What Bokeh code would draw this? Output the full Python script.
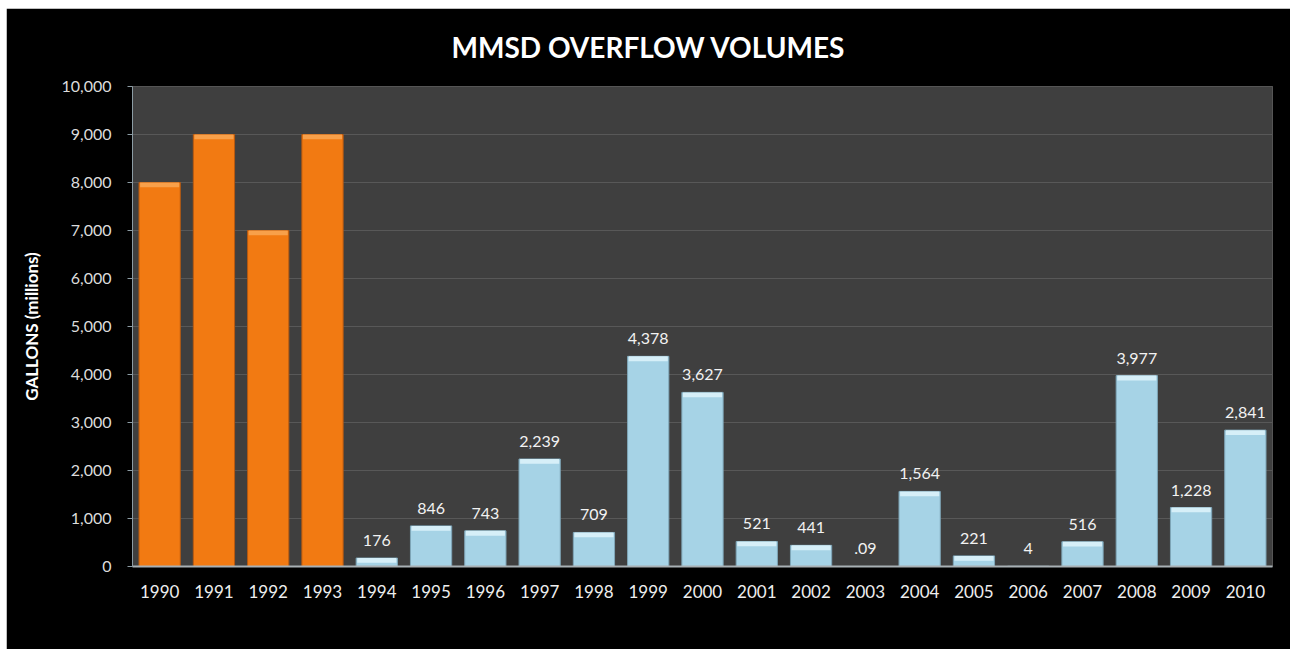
from bokeh.plotting import figure
from bokeh.models import ColumnDataSource, Range1d, NumeralTickFormatter, SingleIntervalTicker, Title
from bokeh.core.properties import value
from bokeh.embed import file_html
from bokeh.resources import INLINE

# ---- data ----
years = ["1990", "1991", "1992", "1993", "1994", "1995", "1996", "1997", "1998", "1999",
         "2000", "2001", "2002", "2003", "2004", "2005", "2006", "2007", "2008", "2009", "2010"]
volumes = [8000, 9000, 7000, 9000, 176, 846, 743, 2239, 709, 4378,
           3627, 521, 441, 0.09, 1564, 221, 4, 516, 3977, 1228, 2841]
value_labels = ["", "", "", "", "176", "846", "743", "2,239", "709", "4,378",
                "3,627", "521", "441", ".09", "1,564", "221", "4", "516", "3,977", "1,228", "2,841"]
early_years = ["1990", "1991", "1992", "1993"]
y_ticks_max = 10000
y_tick_step = 1000

FONT = "Lato"
ORANGE, ORANGE_CAP, ORANGE_EDGE = "#f27a12", "#f8a04a", "#b85a10"
BLUE, BLUE_CAP, BLUE_EDGE = "#a6d3e6", "#d6eff8", "#7fa6b8"

fill = [ORANGE if y in early_years else BLUE for y in years]
cap_fill = [ORANGE_CAP if y in early_years else BLUE_CAP for y in years]
edge = [ORANGE_EDGE if y in early_years else BLUE_EDGE for y in years]
cap_h = 100
cap_bottom = [max(v - cap_h, 0) if v > 50 else v for v in volumes]

src = ColumnDataSource(dict(x=years, top=volumes, fill=fill, cap_fill=cap_fill, edge=edge,
                            cap_bottom=cap_bottom, lab=value_labels))

p = figure(x_range=years, y_range=Range1d(0, y_ticks_max), width=1284, height=641,
           output_backend="svg", toolbar_location=None,
           background_fill_color="#3f3f3f", border_fill_color="#000000",
           min_border_left=126, min_border_right=18, min_border_top=77, min_border_bottom=83)
p.margin = (8, 0, 0, 6)
p.outline_line_color = "#555555"

p.vbar(x="x", top="top", width=0.76, source=src, fill_color="fill", line_color="edge", line_width=1)
p.vbar(x="x", top="top", bottom="cap_bottom", width=0.72, source=src, fill_color="cap_fill",
       line_color=None)
p.text(x="x", y="top", text="lab", source=src, text_align="center", text_baseline="bottom",
       y_offset=-12, text_color="#f2f2f2", text_font=value(FONT), text_font_size="16px")

# axes
p.xgrid.grid_line_color = None
p.ygrid.grid_line_color = "#585858"
p.ygrid.grid_line_width = 1
p.yaxis.ticker = SingleIntervalTicker(interval=y_tick_step)
p.yaxis.formatter = NumeralTickFormatter(format="0,0")
p.yaxis.major_label_text_color = "#dcdcdc"
p.yaxis.major_label_text_font = FONT
p.yaxis.major_label_text_font_size = "16px"
p.yaxis.axis_line_color = "#8c9ca4"
p.yaxis.major_tick_line_color = "#8c9ca4"
p.yaxis.major_tick_out = 5
p.yaxis.major_tick_in = 0
p.yaxis.minor_tick_line_color = None
p.yaxis.major_label_standoff = 16
p.yaxis.axis_label = "GALLONS (millions)"
p.yaxis.axis_label_text_color = "#ffffff"
p.yaxis.axis_label_text_font = FONT
p.yaxis.axis_label_text_font_style = "bold"
p.yaxis.axis_label_text_font_size = "17px"
p.yaxis.axis_label_standoff = 16

p.xaxis.major_label_text_color = "#eeeeee"
p.xaxis.major_label_text_font = FONT
p.xaxis.major_label_text_font_size = "17px"
p.xaxis.axis_line_color = "#a8b0b4"
p.xaxis.axis_line_width = 2
p.xaxis.major_tick_line_color = None
p.xaxis.major_label_standoff = 12

p.add_layout(Title(text="MMSD OVERFLOW VOLUMES", align="left", offset=319,
                   vertical_align="top", standoff=42, text_color="#ffffff", text_font=FONT,
                   text_font_style="bold", text_font_size="28px"), "above")

open("out.html", "w").write(file_html(p, INLINE))
